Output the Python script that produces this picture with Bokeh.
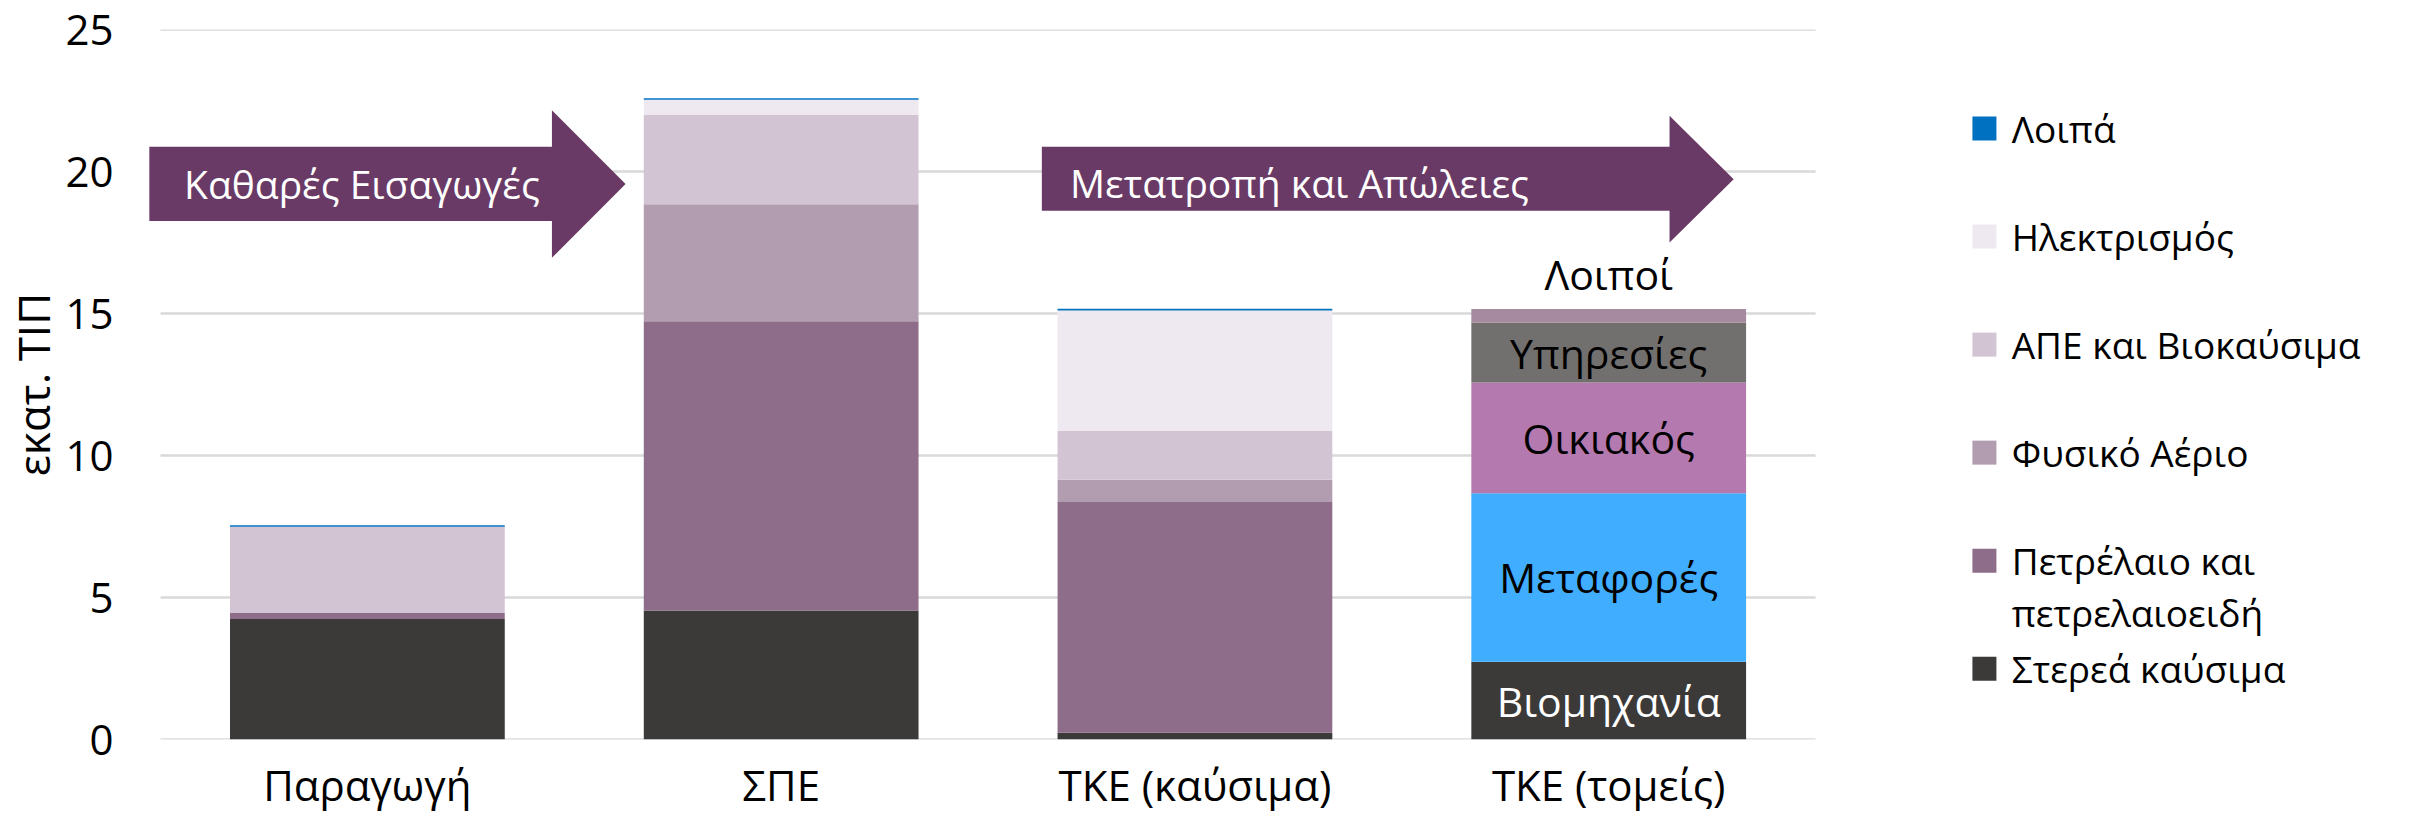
from bokeh.plotting import figure
from bokeh.models import Range1d, FixedTicker, ColumnDataSource
from bokeh.core.properties import value
from bokeh.embed import file_html
from bokeh.resources import INLINE

# ---------------- data ----------------
categories = ["Παραγωγή", "ΣΠΕ", "ΤΚΕ (καύσιμα)", "ΤΚΕ (τομείς)"]

fuel_labels = ["Στερεά καύσιμα", "Πετρέλαιο και\nπετρελαιοειδή", "Φυσικό Αέριο",
               "ΑΠΕ και Βιοκαύσιμα", "Ηλεκτρισμός", "Λοιπά"]
solid_fuels = [4.24, 4.54, 0.24, 0.0]
oil_products = [0.21, 10.19, 8.12, 0.0]
natural_gas = [0.00, 4.12, 0.79, 0.0]
renewables = [3.04, 3.14, 1.71, 0.0]
electricity = [0.00, 0.54, 4.25, 0.0]
other_fuels = [0.05, 0.05, 0.06, 0.0]
fuel_colors = ["#3B3A39", "#8E6D8A", "#B29CB0", "#D2C4D2", "#EEE9F0", "#0070C0"]

sector_labels = ["Βιομηχανία", "Μεταφορές", "Οικιακός", "Υπηρεσίες", "Λοιποί"]
industry = [0.0, 0.0, 0.0, 2.74]
transport = [0.0, 0.0, 0.0, 5.93]
residential = [0.0, 0.0, 0.0, 3.90]
services = [0.0, 0.0, 0.0, 2.11]
other_sectors = [0.0, 0.0, 0.0, 0.48]
sector_colors = ["#3B3A39", "#41ADFF", "#B479AE", "#72706F", "#A68AA0"]
sector_text_colors = ["white", "black", "black", "black", "black"]

y_ticks = [0, 5, 10, 15, 20, 25]
y_title = "εκατ. ΤΙΠ"
arrow_texts = ["Καθαρές Εισαγωγές", "Μετατροπή και Απώλειες"]

# ---------------- layout constants ----------------
FONT = "Open Sans"
W, H = 2425, 820
BAR_W = 0.664
ARROW_COLOR = "#6A3A66"
GRID_COLOR = "#D9D9D9"

xs = [i + 0.5 for i in range(len(categories))]

fuel_keys = ["f%d" % i for i in range(len(fuel_labels))]
sector_keys = ["s%d" % i for i in range(len(sector_labels))]
data = dict(x=xs)
for k, v in zip(fuel_keys, [solid_fuels, oil_products, natural_gas, renewables, electricity, other_fuels]):
    data[k] = v
for k, v in zip(sector_keys, [industry, transport, residential, services, other_sectors]):
    data[k] = v
source = ColumnDataSource(data)

p = figure(width=W, height=H, output_backend="svg", toolbar_location=None,
           x_range=Range1d(-0.029, 5.474), y_range=Range1d(0, 25),
           min_border_left=147, min_border_right=0, min_border_top=29, min_border_bottom=81)
p.outline_line_color = None
p.background_fill_color = "white"
p.border_fill_color = "white"
p.xgrid.visible = False
p.ygrid.visible = False

# gridlines (under bars)
p.segment(x0=[0] * len(y_ticks), x1=[len(categories)] * len(y_ticks), y0=y_ticks, y1=y_ticks,
          line_color=GRID_COLOR, line_width=2.5)

# bars
p.vbar_stack(fuel_keys, x="x", width=BAR_W, fill_color=fuel_colors, line_color=None, source=source)
p.vbar_stack(sector_keys, x="x", width=BAR_W, fill_color=sector_colors, line_color=None, source=source)

# sector labels on the last bar
sec_vals = [industry[3], transport[3], residential[3], services[3], other_sectors[3]]
mids = []
acc = 0.0
for v in sec_vals:
    mids.append(acc + v / 2)
    acc += v
top_sector = acc
p.text(x=[xs[3]] * 4, y=mids[:4], text=sector_labels[:4], text_color=sector_text_colors[:4],
       text_align="center", text_baseline="middle", text_font=value(FONT), text_font_size="41px")
p.text(x=[xs[3]], y=[top_sector + 0.25], text=[sector_labels[4]], text_color="black",
       text_align="center", text_baseline="bottom", text_font=value(FONT), text_font_size="41px")

# arrows
a1x = [-0.027, 0.946, 0.946, 1.124, 0.946, 0.946, -0.027]
a1y = [20.87, 20.87, 22.16, 19.56, 16.96, 18.26, 18.26]
a2x = [2.130, 3.647, 3.647, 3.802, 3.647, 3.647, 2.130]
a2y = [20.87, 20.87, 21.96, 19.73, 17.50, 18.62, 18.62]
p.patch(a1x, a1y, fill_color=ARROW_COLOR, line_color=None)
p.patch(a2x, a2y, fill_color=ARROW_COLOR, line_color=None)
p.text(x=[0.057, 2.198], y=[19.56, 19.62], text=arrow_texts, text_color="white",
       text_align="left", text_baseline="middle", text_font=value(FONT), text_font_size="39px")

# legend (manual, reversed stacking order)
LEG_X = 4.408
LEG_TOP = 21.51
LEG_STEP = 3.803
leg_labels = fuel_labels[::-1]
leg_colors = fuel_colors[::-1]
leg_y = [LEG_TOP - i * LEG_STEP for i in range(len(leg_labels))]
p.rect(x=[LEG_X] * len(leg_labels), y=leg_y, width=24, height=24, width_units="screen",
       height_units="screen", fill_color=leg_colors, line_color=None)
txt_x, txt_y, txt = [], [], []
for lab, y in zip(leg_labels, leg_y):
    for j, line in enumerate(lab.split("\n")):
        txt_x.append(LEG_X + 0.066)
        txt_y.append(y - j * 1.82)
        txt.append(line)
p.text(x=txt_x, y=txt_y, text=txt, text_color="black", text_align="left", text_baseline="middle",
       text_font=value(FONT), text_font_size="37px")

# axes
p.xaxis.ticker = FixedTicker(ticks=xs)
p.xaxis.major_label_overrides = {x: c for x, c in zip(xs, categories)}
p.xaxis.axis_line_color = None
p.xaxis.major_tick_line_color = None
p.xaxis.minor_tick_line_color = None
p.xaxis.major_label_standoff = 10
p.xaxis.major_label_text_font = FONT
p.xaxis.major_label_text_font_size = "42px"
p.xaxis.major_label_text_color = "black"

p.yaxis.ticker = FixedTicker(ticks=y_ticks)
p.yaxis.axis_line_color = None
p.yaxis.major_tick_line_color = None
p.yaxis.minor_tick_line_color = None
p.yaxis.major_label_standoff = 29
p.yaxis.major_label_text_font = FONT
p.yaxis.major_label_text_font_size = "42px"
p.yaxis.major_label_text_color = "black"
p.yaxis.axis_label = y_title
p.yaxis.axis_label_text_font = FONT
p.yaxis.axis_label_text_font_size = "44px"
p.yaxis.axis_label_text_font_style = "normal"
p.yaxis.axis_label_text_color = "black"
p.yaxis.axis_label_standoff = -1

open("out.html", "w").write(file_html(p, INLINE))
